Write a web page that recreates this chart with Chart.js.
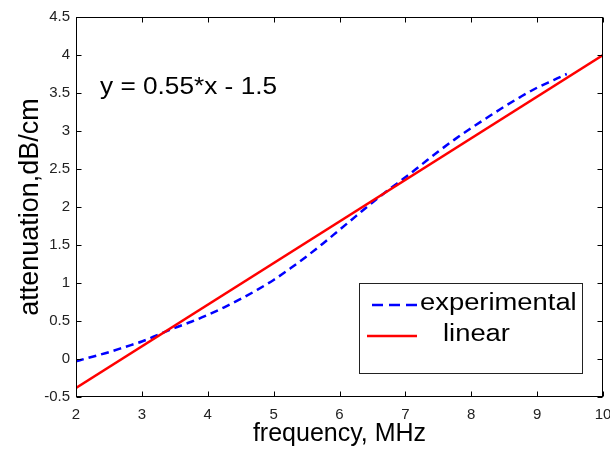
<!DOCTYPE html>
<html><head><meta charset="utf-8">
<script src="https://cdn.jsdelivr.net/npm/chart.js@4"></script>
<style>html,body{margin:0;padding:0;background:#fff}canvas{display:block}</style>
</head><body>
<canvas id="c" width="610" height="450"></canvas>
<script>
// ---- data ----
const freqExp = [2, 2.25, 2.5, 2.75, 3, 3.25, 3.5, 3.75, 4, 4.25, 4.5, 4.75, 5, 5.25, 5.5, 5.75, 6, 6.25, 6.5, 6.75, 7, 7.25, 7.5, 7.75, 8, 8.25, 8.5, 8.75, 9, 9.25, 9.45];
const attenExp = [-0.03, 0.03, 0.09, 0.16, 0.23, 0.32, 0.41, 0.49, 0.58, 0.68, 0.79, 0.91, 1.04, 1.19, 1.35, 1.52, 1.70, 1.88, 2.06, 2.23, 2.39, 2.56, 2.73, 2.89, 3.04, 3.18, 3.32, 3.45, 3.57, 3.67, 3.75];
const freqLin = [2, 10];
const attenLin = [-0.38, 4.0];
const xTicks = [2, 3, 4, 5, 6, 7, 8, 9, 10];
const yTicks = [-0.5, 0, 0.5, 1, 1.5, 2, 2.5, 3, 3.5, 4, 4.5];
const seriesNames = ['experimental', 'linear'];
const equationText = 'y = 0.55*x - 1.5';
const xTitle = 'frequency, MHz';
const yTitle = 'attenuation,dB/cm';

const FONT = '"Liberation Sans", Arial, Helvetica, sans-serif';
const BLUE = '#0000ff', RED = '#ff0000';

const framePlugin = {
  id: 'frame',
  afterDatasetsDraw(chart) {
    const {ctx, chartArea: a, scales: {x, y}} = chart;
    ctx.save();
    ctx.strokeStyle = '#000';
    ctx.lineWidth = 1;
    const L = Math.round(a.left) + 0.5, R = Math.round(a.right) - 0.5;
    const T = Math.round(a.top) + 0.5, B = Math.round(a.bottom) - 0.5;
    ctx.strokeRect(L, T, R - L, B - T);
    const tl = 5;
    ctx.beginPath();
    xTicks.forEach(v => {
      const px = Math.round(x.getPixelForValue(v)) + 0.5;
      ctx.moveTo(px, B); ctx.lineTo(px, B - tl);
      ctx.moveTo(px, T); ctx.lineTo(px, T + tl);
    });
    yTicks.forEach(v => {
      const py = Math.round(y.getPixelForValue(v)) + 0.5;
      ctx.moveTo(L, py); ctx.lineTo(L + tl, py);
      ctx.moveTo(R, py); ctx.lineTo(R - tl, py);
    });
    ctx.stroke();

    // equation text
    ctx.fillStyle = '#000';
    ctx.font = '23px ' + FONT;
    ctx.textBaseline = 'alphabetic';
    ctx.save();
    ctx.translate(a.left + 24, a.top + 77);
    ctx.scale(1.14, 1);
    ctx.fillText(equationText, 0, 0);
    ctx.restore();

    // legend box
    const ds = chart.data.datasets;
    const lx = a.right - 244, ly = a.top + 266, lw = 223, lh = 90;
    ctx.fillStyle = '#fff';
    ctx.fillRect(lx, ly, lw, lh);
    ctx.strokeStyle = '#222';
    ctx.strokeRect(lx + 0.5, ly + 0.5, lw, lh);
    ctx.lineWidth = 2.5;
    ctx.strokeStyle = ds[0].borderColor;
    ctx.setLineDash([11, 6]);
    ctx.beginPath(); ctx.moveTo(lx + 13, ly + 22); ctx.lineTo(lx + 59, ly + 22); ctx.stroke();
    ctx.setLineDash([]);
    ctx.strokeStyle = ds[1].borderColor;
    ctx.beginPath(); ctx.moveTo(lx + 8, ly + 53); ctx.lineTo(lx + 58, ly + 53); ctx.stroke();
    ctx.fillStyle = '#000';
    ctx.font = '23px ' + FONT;
    ctx.textBaseline = 'middle';
    ctx.save(); ctx.translate(lx + 61, ly + 21); ctx.scale(1.19, 1); ctx.fillText(ds[0].label, 0, 0); ctx.restore();
    ctx.save(); ctx.translate(lx + 84, ly + 52); ctx.scale(1.19, 1); ctx.fillText(ds[1].label, 0, 0); ctx.restore();
    ctx.restore();
  }
};

new Chart(document.getElementById('c'), {
  type: 'line',
  data: {
    datasets: [
      { label: seriesNames[0], data: freqExp.map((f, i) => ({x: f, y: attenExp[i]})),
        borderColor: BLUE, borderWidth: 2.5, borderDash: [8, 5], pointRadius: 0, fill: false, order: 1, cubicInterpolationMode: 'monotone' },
      { label: seriesNames[1], data: freqLin.map((f, i) => ({x: f, y: attenLin[i]})),
        borderColor: RED, borderWidth: 2.5, pointRadius: 0, fill: false, order: 0 }
    ]
  },
  options: {
    responsive: false,
    animation: false,
    devicePixelRatio: 1,
    layout: { padding: { top: 17, right: 7, left: 0, bottom: 0 } },
    plugins: { legend: { display: false }, tooltip: { enabled: false } },
    scales: {
      x: {
        type: 'linear', min: 2, max: 10,
        afterBuildTicks: s => { s.ticks = xTicks.map(v => ({value: v})); },
        ticks: { callback: v => String(v), font: { family: FONT, size: 15 }, color: '#222', padding: 9, maxRotation: 0, autoSkip: false },
        grid: { display: false, drawTicks: false },
        border: { display: false },
        title: { display: true, text: xTitle, font: { family: FONT, size: 25 }, color: '#000', padding: { top: 0, bottom: 1 } },
        afterFit: s => { s.height = 53; s.paddingLeft = 0; s.paddingRight = 0; }
      },
      y: {
        type: 'linear', min: -0.5, max: 4.5,
        afterBuildTicks: s => { s.ticks = yTicks.map(v => ({value: v})); },
        ticks: { callback: v => String(v), font: { family: FONT, size: 15 }, color: '#222', padding: 6, autoSkip: false },
        grid: { display: false, drawTicks: false },
        border: { display: false },
        title: { display: true, text: yTitle, font: { family: FONT, size: 27 }, color: '#000', padding: { top: 14, bottom: 0 } },
        afterFit: s => { s.width = 76; s.paddingTop = 0; s.paddingBottom = 0; }
      }
    }
  },
  plugins: [framePlugin]
});
</script>
</body></html>
